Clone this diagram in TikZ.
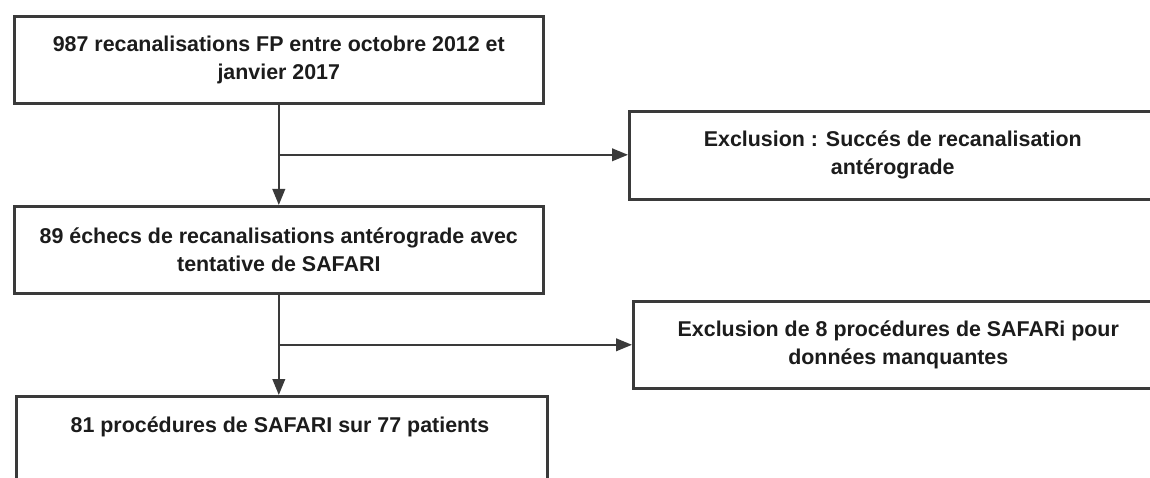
\documentclass[tikz,border=0pt]{standalone}
\usepackage{fontspec}
\setmainfont{Liberation Sans}
\usetikzlibrary{arrows.meta,calc}
\definecolor{boxline}{HTML}{3A3A3A}
\definecolor{txt}{HTML}{1C1C1C}
\begin{document}
\begin{tikzpicture}[x=1pt,y=-1pt,
  flowbox/.style={draw=boxline, line width=2.6pt, rectangle, anchor=north west,
    align=center, inner sep=0pt, text=txt,
    font=\fontsize{21.4}{28}\selectfont\bfseries},
  label text/.style={text=txt, align=center, inner sep=0pt,
    font=\fontsize{21.4}{28}\selectfont\bfseries},
  link/.style={draw=boxline, line width=2.2pt},
  arrowlink/.style={link, -{Triangle[length=16pt,width=12.5pt]}}]
\useasboundingbox (0,0) rectangle (1150,478);
\clip (0,0) rectangle (1150,478);
\fill[white] (0,0) rectangle (1150,478);

\node[flowbox, minimum width=529pt, minimum height=87pt] (b1) at (13,15)
  {987 recanalisations FP entre octobre 2012 et\\janvier 2017};
\node[flowbox, minimum width=529pt, minimum height=87pt] (b2) at (13,205)
  {89 échecs de recanalisations antérograde avec\\tentative de SAFARI};
\node[flowbox, minimum width=531pt, minimum height=105pt] (b3) at (15,395) {};
\node[label text] (t3) at (280,427) {81 procédures de SAFARI sur 77 patients};

\node[flowbox, minimum width=527pt, minimum height=88pt] (e1) at (628,110)
  {Exclusion : Succés de recanalisation\\antérograde};
\node[flowbox, minimum width=530pt, minimum height=87pt] (e2) at (632,300)
  {Exclusion de 8 procédures de SAFARi pour\\données manquantes};

\coordinate (j1) at ($(b1.south)!0.5!(b2.north)$);
\coordinate (j2) at ($(b2.south)!0.5!(b2.south |- b3.north)$);

\draw[arrowlink] (b1.south) -- (b2.north);
\draw[arrowlink] (b2.south) -- (b2.south |- b3.north);
\draw[arrowlink] (j1) -- (j1 -| e1.west);
\draw[arrowlink] (j2) -- (j2 -| e2.west);
\end{tikzpicture}
\end{document}
